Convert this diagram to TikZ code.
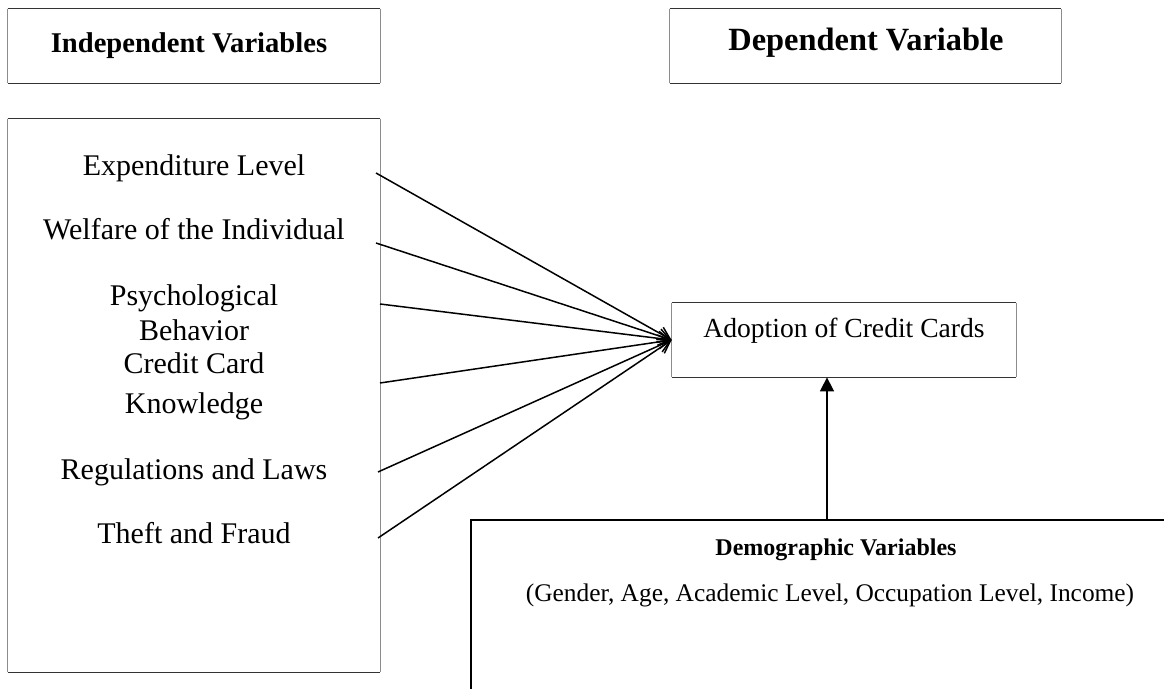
\documentclass[tikz,border=0pt]{standalone}
\usepackage{fontspec}
\setmainfont{Liberation Serif}
\usetikzlibrary{arrows.meta}
\begin{document}
\begin{tikzpicture}[x=0.5pt,y=-0.5pt,
  boxnode/.style={inner sep=0pt,draw=none,minimum width=#1},
  tb/.style={draw=black!80,line width=0.55pt},
  sd/.style={draw=black!45,line width=0.55pt},
  lbl/.style={anchor=base,inner sep=0pt,font=\fontsize{15}{18}\selectfont},
  fan/.style={line width=0.75pt,-{Straight Barb[length=6pt,width=7pt,line width=0.75pt]}},
  uparrow/.style={line width=0.8pt,-{Triangle[length=7pt,width=7pt]}},
  dbox/.style={line width=0.8pt,draw=black}]
\useasboundingbox (0,0) rectangle (1164,689);
% boxes
\node[boxnode=186pt,minimum height=37pt] (indbox) at (194,46) {};
\node[boxnode=195.5pt,minimum height=37pt] (depbox) at (865.5,46) {};
\node[boxnode=186pt,minimum height=276.5pt] (ivbox) at (194,395.5) {};
\node[boxnode=172pt,minimum height=37pt] (adopt) at (844,340) {};
\foreach \b in {indbox,depbox,ivbox,adopt}{
  \draw[tb] (\b.north west) -- (\b.north east);
  \draw[tb] (\b.south west) -- (\b.south east);
  \draw[sd] (\b.north west) -- (\b.south west);
  \draw[sd] (\b.north east) -- (\b.south east);
}
% headings
\node[lbl,font=\fontsize{14.3}{17}\selectfont\bfseries] (indt) at (189,53) {Independent Variables};
\node[lbl,font=\fontsize{16.2}{19}\selectfont\bfseries] (dept) at (866,51) {Dependent Variable};
% independent variable labels
\node[lbl] (t1) at (194,176) {Expenditure Level};
\node[lbl] (t2) at (194,240) {Welfare of the Individual};
\node[lbl] (t3) at (194,306) {Psychological};
\node[lbl] (t4) at (194,341) {Behavior};
\node[lbl] (t5) at (194,374) {Credit Card};
\node[lbl] (t6) at (194,414) {Knowledge};
\node[lbl] (t7) at (194,480) {Regulations and Laws};
\node[lbl] (t8) at (194,544) {Theft and Fraud};
% dependent
\node[lbl,font=\fontsize{13.8}{16}\selectfont] (adt) at (844,338) {Adoption of Credit Cards};
% demographic box (open)
\coordinate (dbl) at (471,689);
\coordinate (dtl) at (471,520);
\coordinate (dtr) at (1164,520);
\coordinate (dtop) at (827,520);
\draw[dbox] (dbl) -- (dtl) -- (dtr);
\node[lbl,font=\fontsize{12}{14}\selectfont\bfseries] (demt) at (836,556) {Demographic Variables};
\node[lbl,font=\fontsize{12.7}{15}\selectfont] (demv) at (830,602) {(Gender, Age, Academic Level, Occupation Level, Income)};
% connectors
\coordinate (s1) at (376,173);
\coordinate (s2) at (376,243);
\coordinate (s3) at (380,304);
\coordinate (s4) at (380,383);
\coordinate (s5) at (378,472);
\coordinate (s6) at (378,538);
\foreach \s in {s1,s2,s3,s4,s5,s6}{
  \draw[fan] (\s) -- (adopt.west);
}
\draw[uparrow] (dtop) -- (dtop |- adopt.south);
\end{tikzpicture}
\end{document}
